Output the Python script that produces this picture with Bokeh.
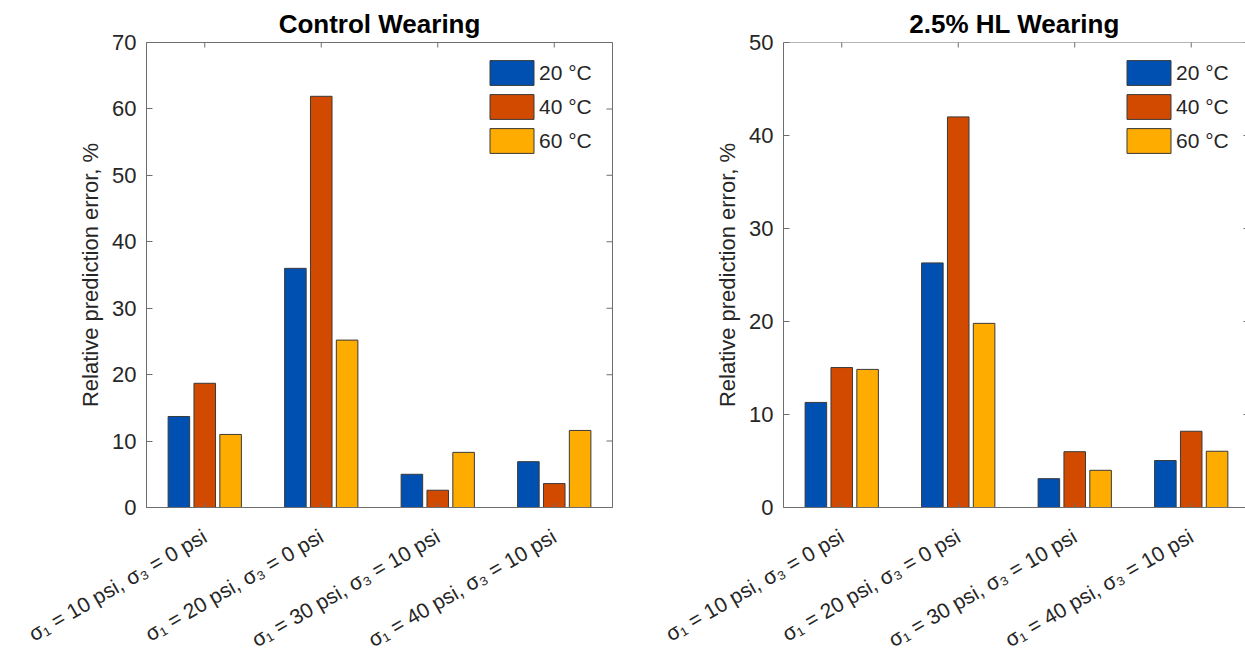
import math
from bokeh.plotting import figure
from bokeh.models import Range1d, FixedTicker, Legend, LegendItem, Span
from bokeh.layouts import row
from bokeh.embed import file_html
from bokeh.resources import INLINE

# ---- data ----
categories = ["σ₁ = 10 psi, σ₃ = 0 psi", "σ₁ = 20 psi, σ₃ = 0 psi",
              "σ₁ = 30 psi, σ₃ = 10 psi", "σ₁ = 40 psi, σ₃ = 10 psi"]
temps = ["20 °C", "40 °C", "60 °C"]

control_20 = [13.7, 36.0, 5.0, 6.9]
control_40 = [18.7, 61.9, 2.6, 3.6]
control_60 = [11.0, 25.2, 8.3, 11.6]

hl_20 = [11.3, 26.3, 3.1, 5.05]
hl_40 = [15.05, 42.0, 6.0, 8.2]
hl_60 = [14.85, 19.8, 4.0, 6.05]

colors = ["#0050B2", "#D24A00", "#FFAC00"]
FONT = "Liberation Sans"
AX = "#6e6e6e"
TXT = "#262626"


def make_fig(title, series, y_max, width, border_left, x_end, right_border):
    y_ticks = list(range(0, y_max + 1, 10))
    cat_ticks = [i + 1 for i in range(len(categories))]
    p = figure(width=width, height=666, output_backend="svg", toolbar_location=None,
               x_range=Range1d(0.5, x_end), y_range=Range1d(0, y_max),
               min_border_left=border_left, min_border_right=(8 if right_border else 0),
               min_border_top=42, min_border_bottom=159)
    p.outline_line_color = AX if right_border else None
    p.xgrid.visible = False
    p.ygrid.visible = False
    p.background_fill_color = "white"
    p.border_fill_color = "white"

    p.title.text = title
    p.title.align = "center"
    p.title.text_font = FONT
    p.title.text_font_size = "26px"
    p.title.text_font_style = "bold"
    p.title.text_color = "black"
    p.title.offset = 0
    p.title.standoff = 8

    # bottom axis: categories
    xa = p.xaxis[0]
    xa.ticker = FixedTicker(ticks=cat_ticks)
    xa.major_label_overrides = {i + 1: c for i, c in enumerate(categories)}
    xa.major_label_orientation = math.pi / 6
    xa.major_label_text_font = FONT
    xa.major_label_text_font_size = "21px"
    xa.major_label_text_color = TXT
    xa.major_tick_in = 5
    xa.major_tick_out = 0
    xa.minor_tick_line_color = None
    xa.axis_line_color = AX
    xa.major_tick_line_color = AX
    xa.major_label_standoff = 27

    ya = p.yaxis[0]
    ya.ticker = FixedTicker(ticks=y_ticks)
    ya.axis_label = "Relative prediction error, %"
    ya.axis_label_text_font = FONT
    ya.axis_label_text_font_size = "22px"
    ya.axis_label_text_font_style = "normal"
    ya.axis_label_text_color = TXT
    ya.axis_label_standoff = 6
    ya.major_label_text_font = FONT
    ya.major_label_text_font_size = "22px"
    ya.major_label_text_color = TXT
    ya.major_label_standoff = 10
    ya.major_tick_in = 6
    ya.major_tick_out = 0
    ya.minor_tick_line_color = None
    ya.axis_line_color = AX
    ya.major_tick_line_color = AX

    if not right_border:
        p.add_layout(Span(location=y_max, dimension="width", line_color=AX, line_width=1))

    # inward ticks on the top and right box edges (clipped to the frame)
    p.rect(x=cat_ticks, y=[y_max] * len(cat_ticks), width=1, height=10,
           width_units="screen", height_units="screen", fill_color=AX, line_color=None)
    p.rect(x=[4.5] * len(y_ticks), y=y_ticks, width=12, height=1,
           width_units="screen", height_units="screen", fill_color=AX, line_color=None)

    offsets = [-0.222, 0.0, 0.222]
    items = []
    for k, vals in enumerate(series):
        xs = [i + 1 + offsets[k] for i in range(len(vals))]
        r = p.vbar(x=xs, top=vals, width=0.185, bottom=0,
                   fill_color=colors[k], line_color="#3a3a3a", line_width=1)
        items.append(LegendItem(label=temps[k], renderers=[r]))

    leg = Legend(items=items, location=(338, 351))
    leg.glyph_width = 55
    leg.glyph_height = 31
    leg.label_height = 31
    leg.spacing = 3
    leg.label_standoff = 0
    leg.label_text_font = FONT
    leg.label_text_font_size = "21px"
    leg.label_text_color = TXT
    leg.border_line_color = None
    leg.background_fill_alpha = 0
    leg.margin = 0
    leg.padding = 0
    p.add_layout(leg, "center")
    return p


p1 = make_fig("Control Wearing", [control_20, control_40, control_60], 70,
              620, 146, 4.5, True)
p2 = make_fig("2.5% HL Wearing", [hl_20, hl_40, hl_60], 50,
              625, 163, 4.466, False)

layout = row(p1, p2)
open("out.html", "w").write(file_html(layout, INLINE))
